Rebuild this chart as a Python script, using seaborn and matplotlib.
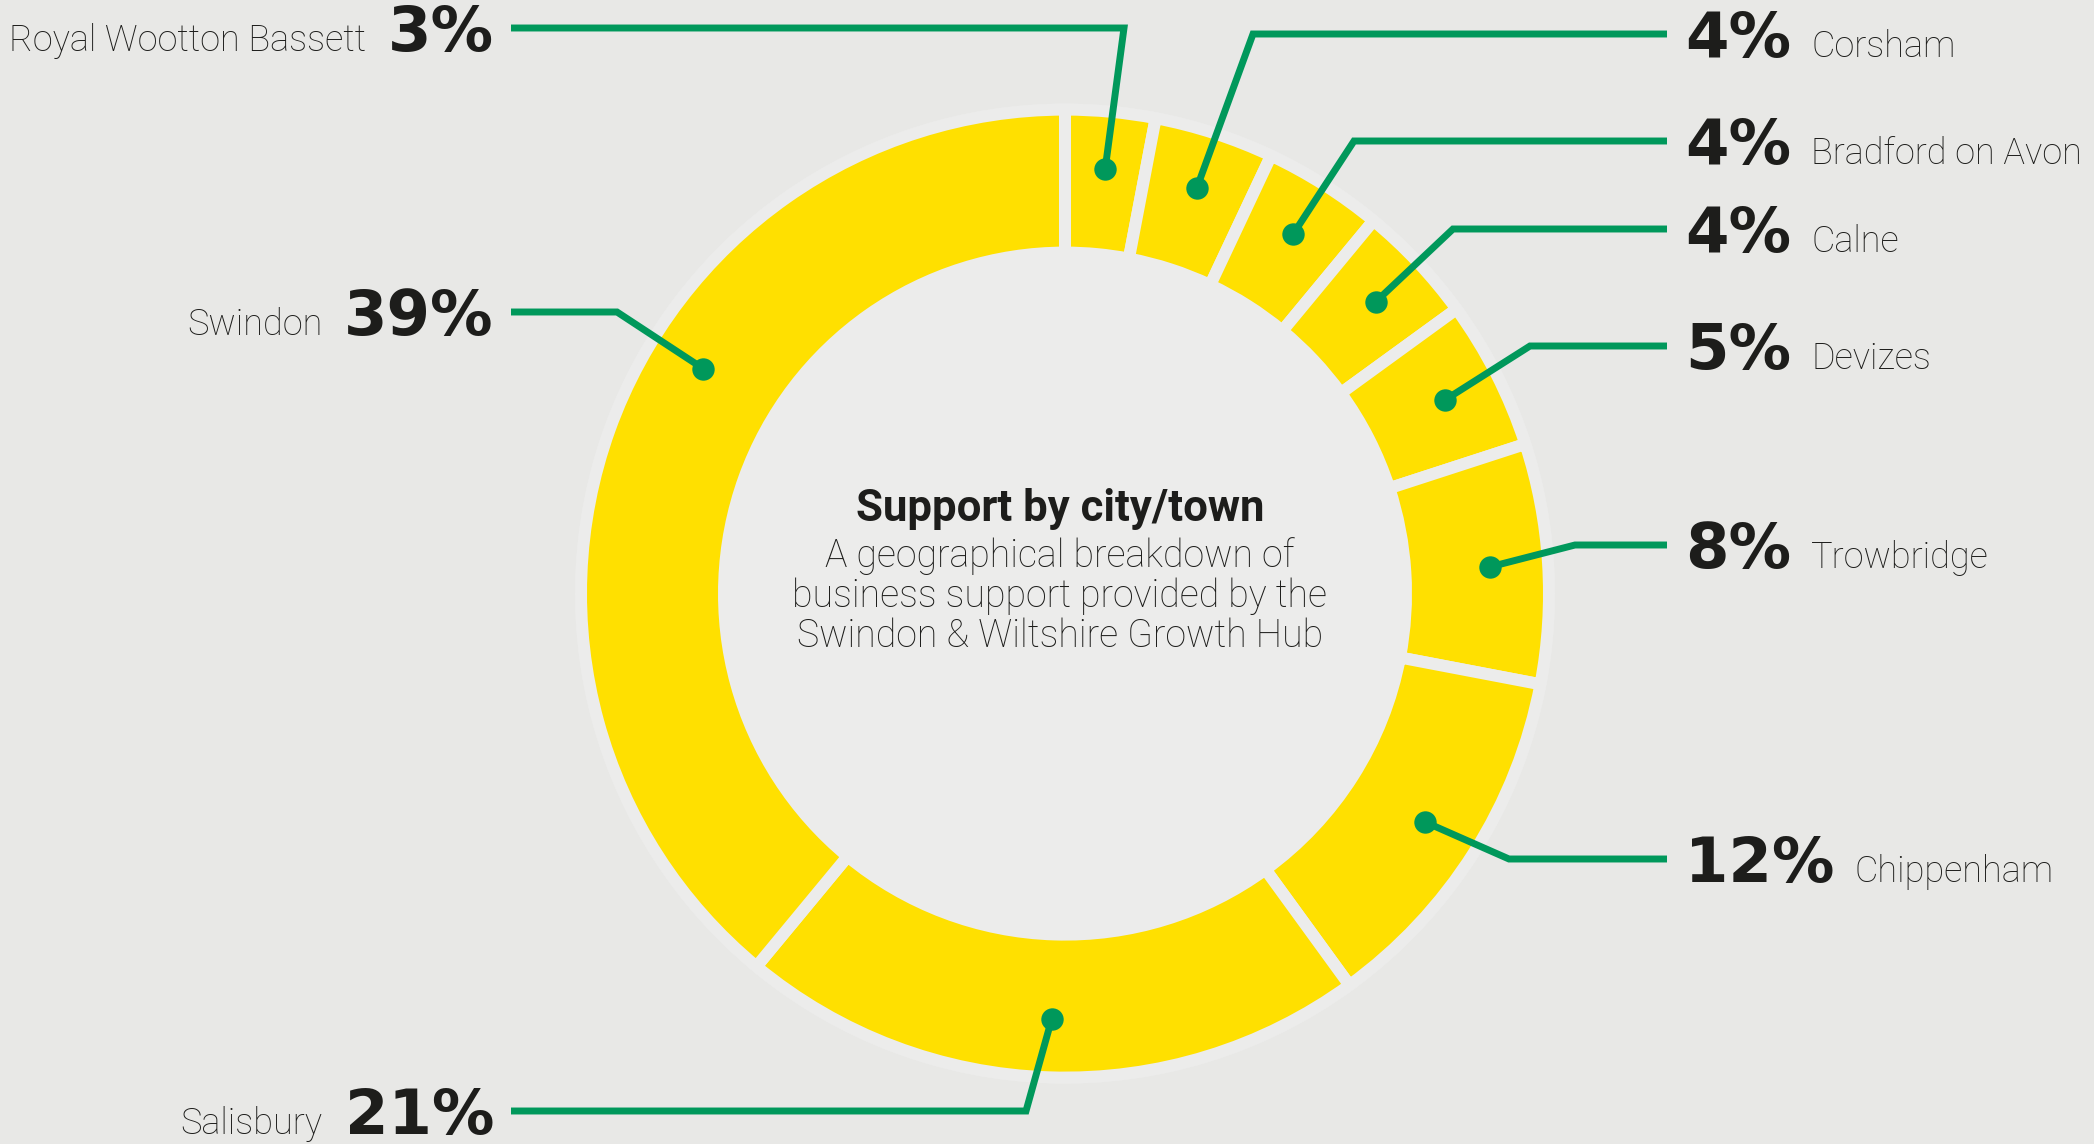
import numpy as np
import pandas as pd
import matplotlib
matplotlib.use("Agg")
import matplotlib.pyplot as plt
import seaborn as sns
from matplotlib.patches import Circle

# ---------------- data ----------------
towns = ["Royal Wootton Bassett", "Corsham", "Bradford on Avon", "Calne", "Devizes",
         "Trowbridge", "Chippenham", "Salisbury", "Swindon"]
shares = [3, 4, 4, 4, 5, 8, 12, 21, 39]

title = "Support by city/town"
subtitle_lines = ["A geographical breakdown of",
                  "business support provided by the",
                  "Swindon & Wiltshire Growth Hub"]

# ---------------- layout (pixels, from top) ----------------
sides = ["L", "R", "R", "R", "R", "R", "R", "L", "L"]
label_y = [28, 34, 141, 229, 346, 545, 859, 1111, 312]
elbow_x = [1124, 1253, 1354, 1453, 1530, 1575, 1509, 1026, 617]
anchor_frac = [0.5, 0.5, 0.5, 0.5, 0.5, 0.5, 0.5, 0.5, 0.586]

W, H = 2094, 1144
BG = "#e8e8e6"
HALO = "#ececeb"
YELLOW = "#ffe000"
GREEN = "#00985b"
INK = "#1d1d1b"

sns.set_theme(style="white")
plt.rcParams["font.family"] = ["Roboto", "DejaVu Sans"]
PCT_FONT = ["DejaVu Sans"]
NAME_FONT = ["Roboto", "DejaVu Sans"]

fig = plt.figure(figsize=(W / 100, H / 100), dpi=100, facecolor=BG)
ax = fig.add_axes([0, 0, 1, 1])
ax.set_facecolor(BG)

cx, cy = 1065, H - 593.6
R_out, R_in = 478, 347
gap_px = 12
gap_pt = gap_px * 72 / 100

ax.add_patch(Circle((cx, cy), R_out + 12, facecolor=HALO, lw=0, zorder=0))
ax.pie(shares, colors=[YELLOW] * len(shares), startangle=90, counterclock=False,
       center=(cx, cy), radius=R_out + gap_px / 2, frame=False,
       wedgeprops=dict(width=R_out - R_in + gap_px, edgecolor=HALO,
                       linewidth=gap_pt, joinstyle="miter"))

# dot anchors
total = sum(shares)
cum = np.cumsum([0] + shares[:-1])
theta = np.radians((cum + np.array(shares) * np.array(anchor_frac)) / total * 360)
r_dot = 426
dot_x = cx + r_dot * np.sin(theta)
dot_y = cy + r_dot * np.cos(theta)

for i in range(len(towns)):
    ly = H - label_y[i]
    end_x = 1667 if sides[i] == "R" else 511
    ax.plot([dot_x[i], elbow_x[i], end_x], [dot_y[i], ly, ly], color=GREEN, lw=5,
            solid_joinstyle="miter", solid_capstyle="butt", zorder=3)

df = pd.DataFrame({"x": dot_x, "y": dot_y})
sns.scatterplot(data=df, x="x", y="y", s=260, color=GREEN, linewidth=0, zorder=4,
                ax=ax, legend=False)
ax.set_xlim(0, W)
ax.set_ylim(0, H)
ax.set_aspect("auto")
ax.axis("off")

pct_texts = []
for i, v in enumerate(shares):
    base = H - label_y[i] - 23
    if sides[i] == "R":
        t = ax.text(1685, base, f"{v}%", fontsize=45, fontweight="bold", family=PCT_FONT,
                    color=INK, ha="left", va="baseline", zorder=5)
    else:
        t = ax.text(494, base, f"{v}%", fontsize=45, fontweight="bold", family=PCT_FONT,
                    color=INK, ha="right", va="baseline", zorder=5)
    pct_texts.append(t)

fig.canvas.draw()
renderer = fig.canvas.get_renderer()
for i, t in enumerate(pct_texts):
    bb = t.get_window_extent(renderer)
    base = H - label_y[i] - 23
    if sides[i] == "R":
        ax.text(bb.x1 + 20, base, towns[i], fontsize=26, fontweight="light", family=NAME_FONT,
                color=INK, ha="left", va="baseline", zorder=5)
    else:
        ax.text(bb.x0 - 22, base, towns[i], fontsize=26, fontweight="light", family=NAME_FONT,
                color=INK, ha="right", va="baseline", zorder=5)

ax.text(1060, H - 509, title, fontsize=31.5, fontweight="bold", family=NAME_FONT, color=INK,
        ha="center", va="center", zorder=5)
for k, line in enumerate(subtitle_lines):
    ax.text(1060, H - (556 + 40 * k), line, fontsize=27, fontweight="light",
            family=NAME_FONT, color=INK, ha="center", va="center", zorder=5)

fig.savefig("out.png", dpi=100, facecolor=BG)
